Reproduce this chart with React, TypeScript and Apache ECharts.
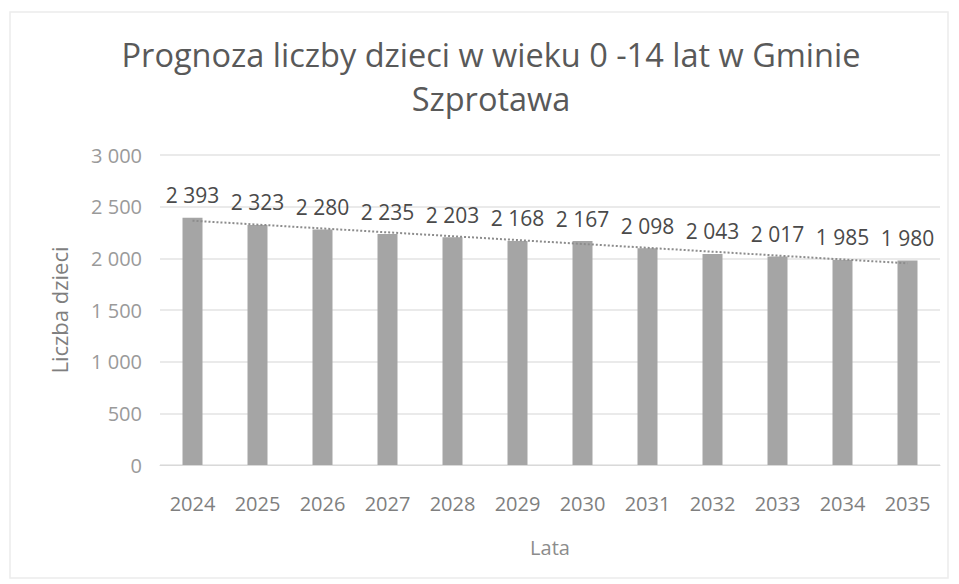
import React, { useEffect, useRef } from "react";
import * as echarts from "echarts";

const titleLine1 = "Prognoza liczby dzieci w wieku 0 -14 lat w Gminie";
const titleLine2 = "Szprotawa";
const years = ["2024", "2025", "2026", "2027", "2028", "2029", "2030", "2031", "2032", "2033", "2034", "2035"];
const children = [2393, 2323, 2280, 2235, 2203, 2168, 2167, 2098, 2043, 2017, 1985, 1980];
// Trendline ends
const trendStart = 2364;
const trendEnd = 1952;
const yTicks = { min: 0, max: 3000, interval: 500 };

const FONT = "'Open Sans', 'Noto Sans', sans-serif";

const fmt = (v: number) => {
  const s = String(Math.round(v));
  return s.replace(/\B(?=(\d{3})+(?!\d))/g, " ");
};

export default function App() {
  const ref = useRef<HTMLDivElement>(null);
  useEffect(() => {
    if (!ref.current) return;
    const chart = echarts.init(ref.current, null, { renderer: "svg" });
    chart.setOption({
      animation: false,
      backgroundColor: "#ffffff",
      textStyle: { fontFamily: FONT },
      graphic: [
        {
          type: "rect",
          shape: { x: 10, y: 12, width: 938, height: 566 },
          style: { fill: "none", stroke: "#ececec", lineWidth: 1.5 },
          silent: true,
        },
      ],
      title: {
        text: titleLine1 + "\n" + titleLine2,
        left: 491,
        textAlign: "center",
        top: 32,
        padding: 0,
        textStyle: {
          fontFamily: FONT,
          fontSize: 32.5,
          fontWeight: "normal",
          color: "#595959",
          lineHeight: 44,
        },
      },
      grid: { left: 160, right: 19, top: 155, bottom: 119, containLabel: false },
      xAxis: {
        type: "category",
        data: years,
        name: "Lata",
        nameLocation: "middle",
        nameGap: 72,
        nameTextStyle: { fontFamily: FONT, fontSize: 20, color: "#8c8c8c" },
        axisLine: { show: true, lineStyle: { color: "#d9d9d9" } },
        axisTick: { show: false },
        axisLabel: { fontFamily: FONT, fontSize: 20, color: "#7f7f7f", margin: 28 },
      },
      yAxis: {
        type: "value",
        min: yTicks.min,
        max: yTicks.max,
        interval: yTicks.interval,
        name: "Liczba dzieci",
        nameLocation: "middle",
        nameGap: 90,
        nameTextStyle: { fontFamily: FONT, fontSize: 22, color: "#7f7f7f" },
        axisLine: { show: false },
        axisTick: { show: false },
        axisLabel: { fontFamily: FONT, fontSize: 20, color: "#9a9a9a", margin: 18, formatter: (v: number) => fmt(v) },
        splitLine: { lineStyle: { color: "#e3e3e3", width: 1.5 } },
      },
      series: [
        {
          type: "bar",
          data: children,
          barWidth: 20,
          itemStyle: { color: "#a5a5a5" },
          label: {
            show: true,
            position: "top",
            distance: 12,
            fontFamily: FONT,
            fontSize: 21,
            color: "#4a4a4a",
            formatter: (p: any) => fmt(p.value),
          },
          markLine: {
            silent: true,
            symbol: ["none", "none"],
            label: { show: false },
            lineStyle: { type: "dotted", color: "#8c8c8c", width: 2 },
            data: [[{ coord: [0, trendStart] }, { coord: [years.length - 1, trendEnd] }]],
          },
        },
      ],
    });
    return () => chart.dispose();
  }, []);
  return <div ref={ref} style={{ width: 959, height: 584, position: "absolute", left: 0, top: 0 }} />;
}
